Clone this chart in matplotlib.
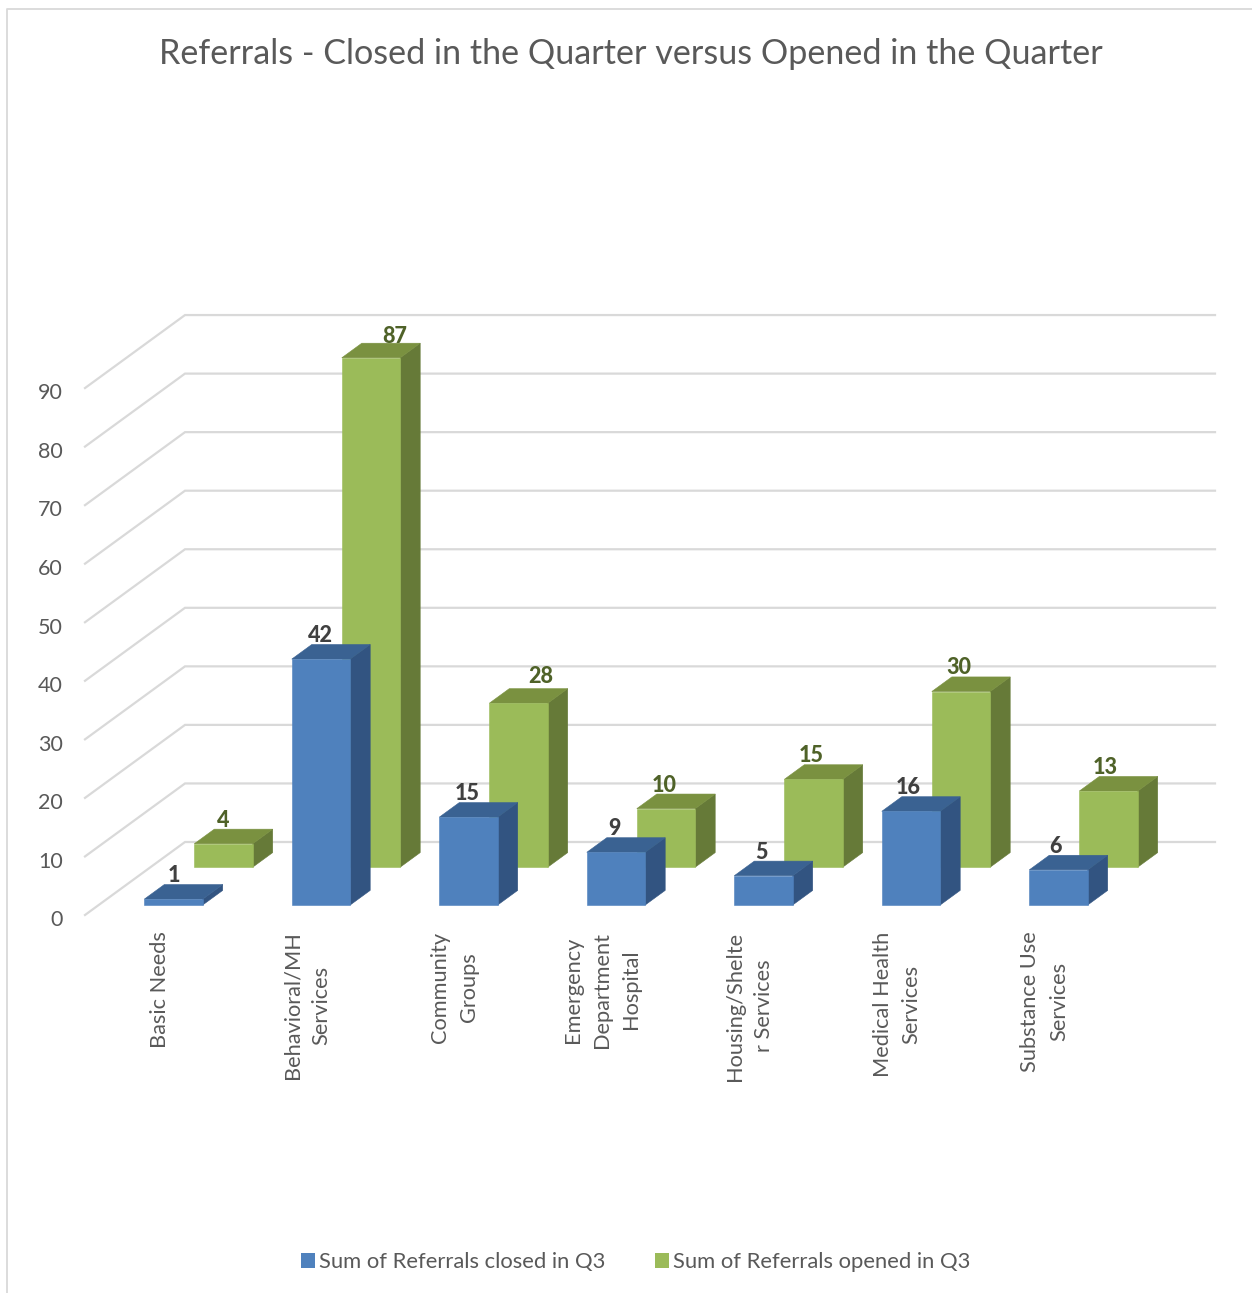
import matplotlib
matplotlib.use("Agg")
import matplotlib.pyplot as plt
from matplotlib.patches import Polygon, Patch
from matplotlib.lines import Line2D

plt.rcParams['font.family'] = ['Lato', 'DejaVu Sans']

categories = ["Basic Needs", "Behavioral/MH\nServices", "Community\nGroups",
              "Emergency\nDepartment\nHospital", "Housing/Shelte\nr Services",
              "Medical Health\nServices", "Substance Use\nServices"]
closed_q3 = [1, 42, 15, 9, 5, 16, 6]
opened_q3 = [4, 87, 28, 10, 15, 30, 13]
y_ticks = list(range(0, 100, 10))

W, H = 1252, 1293
fig = plt.figure(figsize=(W / 100, H / 100), dpi=100, facecolor='white')
ax = fig.add_axes([0, 0, 1, 1])
ax.axis('off')

# One category is 147.5 px wide, one value unit 5.855 px tall.
X_UNIT, Y_UNIT = 147.5, 5.855
X0_PX, Y0_PX = 159.8, 915.0
ax.set_xlim(-X0_PX / X_UNIT, (W - X0_PX) / X_UNIT)
ax.set_ylim((Y0_PX - H) / Y_UNIT, Y0_PX / Y_UNIT)

# Oblique projection: depth 0 is the front of the floor, depth 1 the back wall.
DX, DY = 100 / X_UNIT, 73 / Y_UNIT
WALL_LEFT = -74.8 / X_UNIT
WALL_RIGHT = (1215 - X0_PX) / X_UNIT
WALL_BACK = WALL_LEFT + DX


def proj(x, v, d):
    return x + d * DX, v + d * DY


GRID = '#d9d9d9'
for t in y_ticks:
    ax.plot([WALL_LEFT, WALL_BACK, WALL_RIGHT], [t, t + DY, t + DY],
            color=GRID, lw=1.6, solid_joinstyle='miter', zorder=1)
    ax.annotate(str(t), (WALL_LEFT, t), xytext=(-16, -3.8), textcoords='offset points',
                ha='right', va='center', fontsize=15.5, color='#595959')

BAR_W = 58.4 / X_UNIT
BAR_DEPTH = 0.2


def box(i, value, front, face, side, top, label_color, z, nudge=(0, 0), shift=0.0):
    xl = i + shift - BAR_W / 2
    xr = i + shift + BAR_W / 2
    back = front + BAR_DEPTH
    # front face
    fx, fy = proj(xl, 0, front)
    ax.bar(fx, value, width=BAR_W, bottom=fy, align='edge', color=face,
           edgecolor=face, lw=0.4, zorder=z + 0.2)
    # right side face
    ax.add_patch(Polygon([proj(xr, 0, front), proj(xr, 0, back),
                          proj(xr, value, back), proj(xr, value, front)],
                         closed=True, fc=side, ec=side, lw=0.4, zorder=z))
    # top face
    ax.add_patch(Polygon([proj(xl, value, front), proj(xr, value, front),
                          proj(xr, value, back), proj(xl, value, back)],
                         closed=True, fc=top, ec=top, lw=0.4, zorder=z + 0.1))
    # value label sits above the back edge of the top face
    lx = proj(i + shift, 0, front)[0]
    ly = proj(i + shift, value, back)[1]
    ax.annotate(str(value), (lx, ly),
                xytext=((-0.5 * i + nudge[0]) * 0.72, 6.5 + nudge[1] * 0.72),
                textcoords='offset points', ha='center', va='center',
                fontsize=15.5, fontweight=900, color=label_color, zorder=z + 1)


BLUE = ('#4f81bd', '#325481', '#3a6292')
GREEN = ('#9bbb59', '#667a38', '#7a9140')

# the two labels beside tall columns are dragged clear of them (px)
opened_label_nudge = {1: (24, -2), 2: (23, 3)}

for i, v in enumerate(opened_q3):
    box(i, v, 0.655, *GREEN, '#4f6228', 3, opened_label_nudge.get(i, (0, 0)),
        shift=-1.8 / X_UNIT)
for i, v in enumerate(closed_q3):
    box(i, v, 0.137, *BLUE, '#404040', 5)

label_y = (Y0_PX - 931.5) / Y_UNIT
for i, name in enumerate(categories):
    ax.annotate(name, (i, label_y), xytext=(0, 0), textcoords='offset points',
                rotation=90, ha='center', va='top', multialignment='center',
                fontsize=15.7, color='#595959', linespacing=1.56)

fig.text(631 / W, 1 - 54 / H, "Referrals - Closed in the Quarter versus Opened in the Quarter",
         ha='center', va='center', fontsize=24.6, color='#595959')

fig.legend(handles=[Patch(fc=BLUE[0], label="Sum of Referrals closed in Q3"),
                    Patch(fc=GREEN[0], label="Sum of Referrals opened in Q3")],
           loc='center', bbox_to_anchor=(635.5 / W, 1 - 1262 / H), ncols=2, frameon=False,
           fontsize=15.8, handlelength=0.64, handleheight=0.64, handletextpad=0.2,
           columnspacing=2.25, labelcolor='#595959')

# chart area border, visible along the top and left only
fig.add_artist(Line2D([7 / W, 7 / W, 1], [0, 1 - 8.5 / H, 1 - 8.5 / H],
                      color=GRID, lw=1.3, transform=fig.transFigure))

fig.savefig("out.png", dpi=100)
